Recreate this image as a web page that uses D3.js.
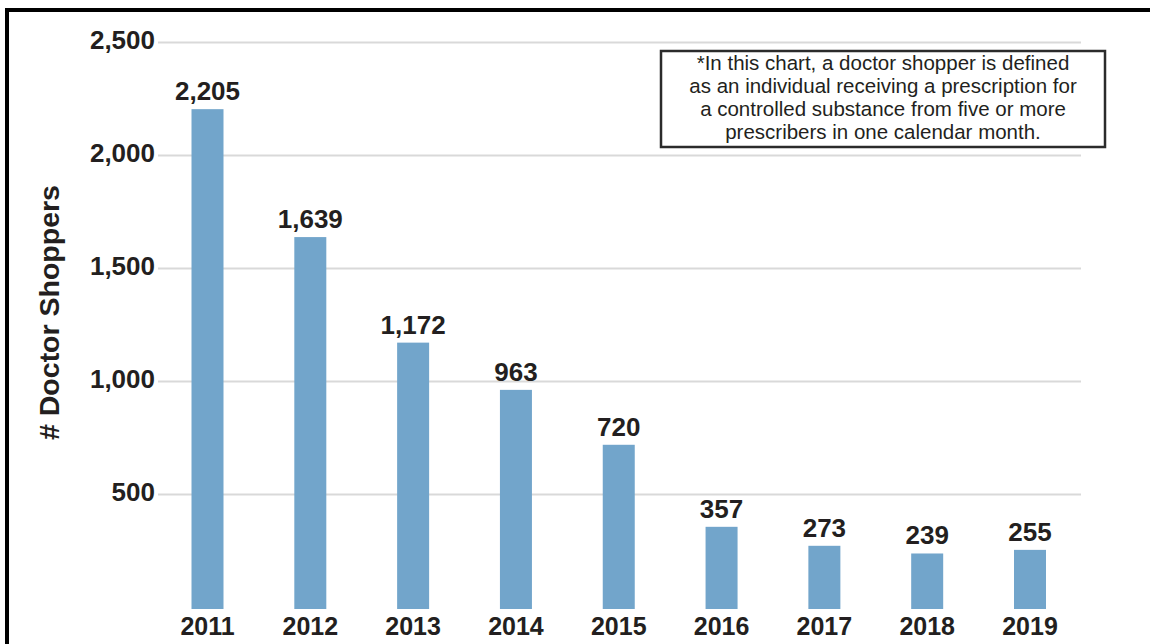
<!DOCTYPE html>
<html>
<head>
<meta charset="utf-8">
<script src="https://cdn.jsdelivr.net/npm/d3@7"></script>
<style>
  html, body { margin: 0; padding: 0; background: #fff; }
  svg { display: block; font-family: "Liberation Sans", Arial, Helvetica, sans-serif; }
</style>
</head>
<body>
<svg id="chart" width="1150" height="644"></svg>
<script>
const years = ["2011", "2012", "2013", "2014", "2015", "2016", "2017", "2018", "2019"];
const doctorShoppers = [2205, 1639, 1172, 963, 720, 357, 273, 239, 255];
const yTicks = [500, 1000, 1500, 2000, 2500];
const yTitle = "# Doctor Shoppers";
const noteLines = [
  "*In this chart, a doctor shopper is defined",
  "as an individual receiving a prescription for",
  "a controlled substance from five or more",
  "prescribers in one calendar month."
];

const svg = d3.select("#chart");
const ink = "#231f20";

// frame
svg.append("rect").attr("x", 0).attr("y", 0).attr("width", 1150).attr("height", 644).attr("fill", "#fff");
svg.append("line").attr("x1", 5).attr("x2", 1150).attr("y1", 10).attr("y2", 10)
  .attr("stroke", "#000").attr("stroke-width", 4);
svg.append("line").attr("x1", 7).attr("x2", 7).attr("y1", 8).attr("y2", 644)
  .attr("stroke", "#000").attr("stroke-width", 4);

const y = d3.scaleLinear().domain([0, 2500]).range([607.5, 42.5]);
const x = d3.scalePoint().domain(years).range([207.5, 1030]);
const barW = 32;

// gridlines
svg.append("g").selectAll("line").data(yTicks).join("line")
  .attr("x1", 158).attr("x2", 1081)
  .attr("y1", d => y(d)).attr("y2", d => y(d))
  .attr("stroke", "#d9d9d9").attr("stroke-width", 2);

// y tick labels
svg.append("g").selectAll("text").data(yTicks).join("text")
  .attr("x", 155).attr("y", d => y(d) + 6)
  .attr("text-anchor", "end")
  .attr("font-size", 26).attr("font-weight", "bold").attr("fill", ink)
  .text(d => d3.format(",")(d));

// bars
svg.append("g").selectAll("rect").data(doctorShoppers).join("rect")
  .attr("x", (d, i) => x(years[i]) - barW / 2)
  .attr("width", barW)
  .attr("y", d => y(d))
  .attr("height", d => y(0) - y(d) + 1.5)
  .attr("fill", "#72a5cb");

// value labels
svg.append("g").selectAll("text").data(doctorShoppers).join("text")
  .attr("x", (d, i) => x(years[i]))
  .attr("y", d => y(d) - 9)
  .attr("text-anchor", "middle")
  .attr("font-size", 26).attr("font-weight", "bold").attr("fill", ink)
  .text(d => d3.format(",")(d));

// year labels
svg.append("g").selectAll("text").data(years).join("text")
  .attr("x", d => x(d))
  .attr("y", 635)
  .attr("text-anchor", "middle")
  .attr("font-size", 25).attr("font-weight", "bold").attr("fill", ink)
  .text(d => d);

// y title
svg.append("text")
  .attr("transform", "translate(59,312.5) rotate(-90)")
  .attr("text-anchor", "middle")
  .attr("font-size", 28.5).attr("font-weight", "bold").attr("fill", ink)
  .text(yTitle);

// note box
svg.append("rect")
  .attr("x", 661).attr("y", 51).attr("width", 444).attr("height", 96)
  .attr("fill", "#fff").attr("stroke", "#2b2b2b").attr("stroke-width", 2.5);
svg.append("g").selectAll("text").data(noteLines).join("text")
  .attr("x", 883).attr("y", (d, i) => 70 + i * 23)
  .attr("text-anchor", "middle")
  .attr("font-size", 20.5).attr("fill", ink)
  .text(d => d);
</script>
</body>
</html>
